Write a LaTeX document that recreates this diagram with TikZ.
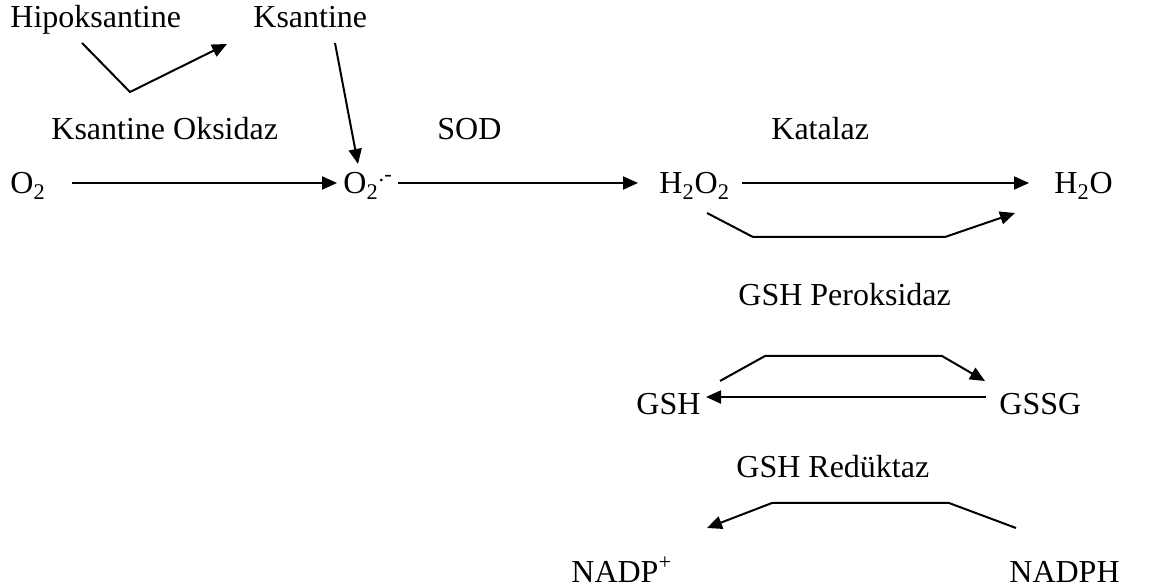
\documentclass[tikz,border=0pt]{standalone}
\usepackage{fontspec}
\setmainfont{Liberation Serif}
\usetikzlibrary{arrows.meta}
\begin{document}
\begin{tikzpicture}[x=0.5pt,y=-0.5pt,
  lbl/.style={inner sep=0pt, anchor=base west, font=\fontsize{16pt}{19pt}\selectfont},
  arr/.style={line width=1pt, -{Triangle[length=7.5pt,width=6.5pt]}},
  ln/.style={line width=1pt}]
\useasboundingbox (0,0) rectangle (1168,587);
% labels
\node[lbl] (hipo) at (10,28) {Hipoksantine};
\node[lbl] (ksan) at (253,28) {Ksantine};
\node[lbl] (xo) at (51,140) {Ksantine Oksidaz};
\node[lbl] (sod) at (437,140) {SOD};
\node[lbl] (kat) at (771,140) {Katalaz};
\node[lbl] (o2) at (10,194) {O\textsubscript{2}};
\node[lbl] (sup) at (343,194) {O\textsubscript{2}\textsuperscript{.-}};
\node[lbl] (hoo) at (659,194) {H\textsubscript{2}O\textsubscript{2}};
\node[lbl] (ho) at (1054,194) {H\textsubscript{2}O};
\node[lbl] (gpx) at (738,306) {GSH Peroksidaz};
\node[lbl] (gsh) at (636,415) {GSH};
\node[lbl] (gssg) at (999,415) {GSSG};
\node[lbl] (gr) at (736,478) {GSH Redüktaz};
\node[lbl] (nadp) at (571,582) {NADP\textsuperscript{+}};
\node[lbl] (nadph) at (1009,582) {NADPH};
% connector end points
\coordinate (h1) at (82,43);
\coordinate (h2) at (130,92);
\coordinate (h3) at (227,44);
\coordinate (k1) at (335,43);
\coordinate (k2) at (358,164);
\coordinate (r1a) at (72,183);
\coordinate (r1b) at (337,183);
\coordinate (r2a) at (398,183);
\coordinate (r2b) at (638,183);
\coordinate (r3a) at (742,183);
\coordinate (r3b) at (1029,183);
\coordinate (p1) at (707,213);
\coordinate (p2) at (753,237);
\coordinate (p3) at (945,237);
\coordinate (p4) at (1015,213);
\coordinate (g1) at (720,381);
\coordinate (g2) at (765,356);
\coordinate (g3) at (942,356);
\coordinate (g4) at (985,381);
\coordinate (s1) at (986,397);
\coordinate (s2) at (706,397);
\coordinate (n1) at (1016,528);
\coordinate (n2) at (949,503);
\coordinate (n3) at (772,503);
\coordinate (n4) at (707,528);
% connectors
\draw[arr] (h1) -- (h2) -- (h3);
\draw[arr] (k1) -- (k2);
\draw[arr] (r1a) -- (r1b);
\draw[arr] (r2a) -- (r2b);
\draw[arr] (r3a) -- (r3b);
\draw[arr] (p1) -- (p2) -- (p3) -- (p4);
\draw[arr] (g1) -- (g2) -- (g3) -- (g4);
\draw[arr] (s1) -- (s2);
\draw[arr] (n1) -- (n2) -- (n3) -- (n4);
\end{tikzpicture}
\end{document}
